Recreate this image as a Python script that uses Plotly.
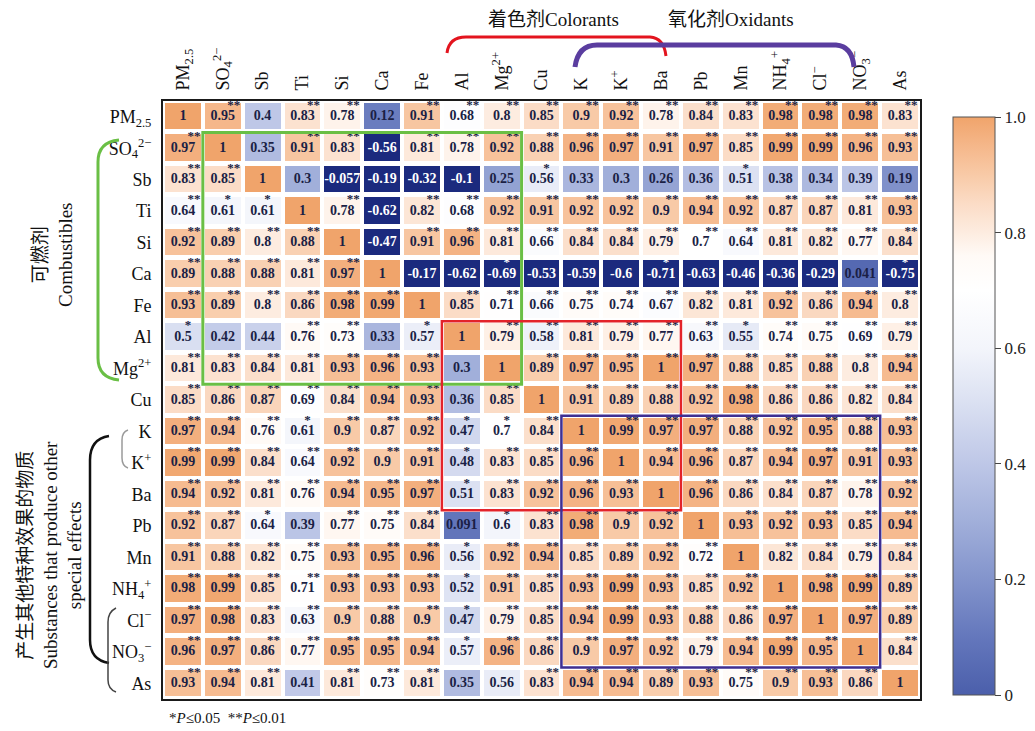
import plotly.graph_objects as go

# Species names (axis tick labels)
labels = [
    "PM<sub>2.5</sub>", "SO<sub>4</sub><sup>2−</sup>", "Sb", "Ti", "Si", "Ca", "Fe", "Al",
    "Mg<sup>2+</sup>", "Cu", "K", "K<sup>+</sup>", "Ba", "Pb", "Mn",
    "NH<sub>4</sub><sup>+</sup>", "Cl<sup>−</sup>", "NO<sub>3</sub><sup>−</sup>", "As",
]

# Correlation coefficients, one row per species
r_pm25 = [1, 0.95, 0.4, 0.83, 0.78, 0.12, 0.91, 0.68, 0.8, 0.85, 0.9, 0.92, 0.78, 0.84, 0.83, 0.98, 0.98, 0.98, 0.83]
r_so4 = [0.97, 1, 0.35, 0.91, 0.83, -0.56, 0.81, 0.78, 0.92, 0.88, 0.96, 0.97, 0.91, 0.97, 0.85, 0.99, 0.99, 0.96, 0.93]
r_sb = [0.83, 0.85, 1, 0.3, -0.057, -0.19, -0.32, -0.1, 0.25, 0.56, 0.33, 0.3, 0.26, 0.36, 0.51, 0.38, 0.34, 0.39, 0.19]
r_ti = [0.64, 0.61, 0.61, 1, 0.78, -0.62, 0.82, 0.68, 0.92, 0.91, 0.92, 0.92, 0.9, 0.94, 0.92, 0.87, 0.87, 0.81, 0.93]
r_si = [0.92, 0.89, 0.8, 0.88, 1, -0.47, 0.91, 0.96, 0.81, 0.66, 0.84, 0.84, 0.79, 0.7, 0.64, 0.81, 0.82, 0.77, 0.84]
r_ca = [0.89, 0.88, 0.88, 0.81, 0.97, 1, -0.17, -0.62, -0.69, -0.53, -0.59, -0.6, -0.71, -0.63, -0.46, -0.36, -0.29, 0.041, -0.75]
r_fe = [0.93, 0.89, 0.8, 0.86, 0.98, 0.99, 1, 0.85, 0.71, 0.66, 0.75, 0.74, 0.67, 0.82, 0.81, 0.92, 0.86, 0.94, 0.8]
r_al = [0.5, 0.42, 0.44, 0.76, 0.73, 0.33, 0.57, 1, 0.79, 0.58, 0.81, 0.79, 0.77, 0.63, 0.55, 0.74, 0.75, 0.69, 0.79]
r_mg = [0.81, 0.83, 0.84, 0.81, 0.93, 0.96, 0.93, 0.3, 1, 0.89, 0.97, 0.95, 1, 0.97, 0.88, 0.85, 0.88, 0.8, 0.94]
r_cu = [0.85, 0.86, 0.87, 0.69, 0.84, 0.94, 0.93, 0.36, 0.85, 1, 0.91, 0.89, 0.88, 0.92, 0.98, 0.86, 0.86, 0.82, 0.84]
r_k = [0.97, 0.94, 0.76, 0.61, 0.9, 0.87, 0.92, 0.47, 0.7, 0.84, 1, 0.99, 0.97, 0.97, 0.88, 0.92, 0.95, 0.88, 0.93]
r_kp = [0.99, 0.99, 0.84, 0.64, 0.92, 0.9, 0.91, 0.48, 0.83, 0.85, 0.96, 1, 0.94, 0.96, 0.87, 0.94, 0.97, 0.91, 0.93]
r_ba = [0.94, 0.92, 0.81, 0.76, 0.94, 0.95, 0.97, 0.51, 0.83, 0.92, 0.96, 0.93, 1, 0.96, 0.86, 0.84, 0.87, 0.78, 0.92]
r_pb = [0.92, 0.87, 0.64, 0.39, 0.77, 0.75, 0.84, 0.091, 0.6, 0.83, 0.98, 0.9, 0.92, 1, 0.93, 0.92, 0.93, 0.85, 0.94]
r_mn = [0.91, 0.88, 0.82, 0.75, 0.93, 0.95, 0.96, 0.56, 0.92, 0.94, 0.85, 0.89, 0.92, 0.72, 1, 0.82, 0.84, 0.79, 0.84]
r_nh4 = [0.98, 0.99, 0.85, 0.71, 0.93, 0.93, 0.93, 0.52, 0.91, 0.85, 0.93, 0.99, 0.93, 0.85, 0.92, 1, 0.98, 0.99, 0.89]
r_cl = [0.97, 0.98, 0.83, 0.63, 0.9, 0.88, 0.9, 0.47, 0.79, 0.85, 0.94, 0.99, 0.93, 0.88, 0.86, 0.97, 1, 0.97, 0.89]
r_no3 = [0.96, 0.97, 0.86, 0.77, 0.95, 0.95, 0.94, 0.57, 0.96, 0.86, 0.9, 0.97, 0.92, 0.79, 0.94, 0.99, 0.95, 1, 0.84]
r_as = [0.93, 0.94, 0.81, 0.41, 0.81, 0.73, 0.81, 0.35, 0.56, 0.83, 0.94, 0.94, 0.89, 0.93, 0.75, 0.9, 0.93, 0.86, 1]

# Significance level per cell: 0 none, 1 = P<=0.05, 2 = P<=0.01
s_pm25 = [0, 2, 0, 2, 2, 0, 2, 2, 2, 2, 2, 2, 2, 2, 2, 2, 2, 2, 2]
s_so4 = [2, 0, 0, 2, 2, 0, 2, 2, 2, 2, 2, 2, 2, 2, 2, 2, 2, 2, 2]
s_sb = [2, 2, 0, 0, 0, 0, 0, 0, 0, 1, 0, 0, 0, 0, 1, 0, 0, 0, 0]
s_ti = [2, 1, 1, 0, 2, 0, 2, 2, 2, 2, 2, 2, 2, 2, 2, 2, 2, 2, 2]
s_si = [2, 2, 2, 2, 0, 0, 2, 2, 2, 2, 2, 2, 2, 2, 2, 2, 2, 2, 2]
s_ca = [2, 2, 2, 2, 2, 0, 0, 0, 1, 0, 0, 0, 1, 0, 0, 0, 0, 0, 1]
s_fe = [2, 2, 2, 2, 2, 2, 0, 2, 2, 2, 2, 2, 2, 2, 2, 2, 2, 2, 2]
s_al = [1, 0, 0, 2, 2, 0, 1, 0, 2, 2, 2, 2, 2, 2, 1, 2, 2, 2, 2]
s_mg = [2, 2, 2, 2, 2, 2, 2, 0, 0, 2, 2, 2, 2, 2, 2, 2, 2, 2, 2]
s_cu = [2, 2, 2, 2, 2, 2, 2, 0, 2, 0, 2, 2, 2, 2, 2, 2, 2, 2, 2]
s_k = [2, 2, 2, 1, 2, 2, 2, 1, 1, 2, 0, 2, 2, 2, 2, 2, 2, 2, 2]
s_kp = [2, 2, 2, 2, 2, 2, 2, 1, 2, 2, 2, 0, 2, 2, 2, 2, 2, 2, 2]
s_ba = [2, 2, 2, 2, 2, 2, 2, 1, 2, 2, 2, 2, 0, 2, 2, 2, 2, 2, 2]
s_pb = [2, 2, 1, 0, 2, 2, 2, 0, 1, 2, 2, 2, 2, 0, 2, 2, 2, 2, 2]
s_mn = [2, 2, 2, 2, 2, 2, 2, 1, 2, 2, 2, 2, 2, 2, 0, 2, 2, 2, 2]
s_nh4 = [2, 2, 2, 2, 2, 2, 2, 1, 2, 2, 2, 2, 2, 2, 2, 0, 2, 2, 2]
s_cl = [2, 2, 2, 2, 2, 2, 2, 1, 2, 2, 2, 2, 2, 2, 2, 2, 0, 2, 2]
s_no3 = [2, 2, 2, 2, 2, 2, 2, 1, 2, 2, 2, 2, 2, 2, 2, 2, 2, 0, 2]
s_as = [2, 2, 2, 0, 2, 2, 2, 0, 0, 2, 2, 2, 2, 2, 2, 2, 2, 2, 0]

corr = [r_pm25, r_so4, r_sb, r_ti, r_si, r_ca, r_fe, r_al, r_mg, r_cu,
        r_k, r_kp, r_ba, r_pb, r_mn, r_nh4, r_cl, r_no3, r_as]
sig = [s_pm25, s_so4, s_sb, s_ti, s_si, s_ca, s_fe, s_al, s_mg, s_cu,
       s_k, s_kp, s_ba, s_pb, s_mn, s_nh4, s_cl, s_no3, s_as]

cbar_vals = [0, 0.2, 0.4, 0.6, 0.8, 1.0]

n = len(labels)
idx = list(range(n))

SERIF = "Liberation Serif, Times New Roman, Noto Sans CJK SC, serif"
TXT = "#1b1f45"

# Figure geometry (pixels)
W, H = 1035, 731
L, R, T, B = 163, 920, 101, 699
PW, PH = R - L, B - T
cw, ch = PW / n, PH / n


def px(x):
    return (x - L) / PW


def py(y):
    return 1 - (y - T) / PH


colorscale = [
    [0.0, "#4b5fab"], [0.1, "#6477bc"], [0.2, "#8394cc"], [0.3, "#a1afda"],
    [0.4, "#bec7e7"], [0.5, "#d9dff1"], [0.6, "#f3f5fb"], [0.7, "#ffffff"],
    [0.76, "#fffaf6"], [0.8, "#fdece0"], [0.85, "#fbdcc6"], [0.9, "#f8caa7"],
    [0.95, "#f5b78a"], [1.0, "#f0a46b"],
]

z_pos = [[v if v >= 0 else None for v in row] for row in corr]
z_neg = [[1 if v < 0 else None for v in row] for row in corr]

fig = go.Figure()
fig.add_trace(go.Heatmap(
    z=z_pos, x=idx, y=idx, zmin=0, zmax=1, colorscale=colorscale,
    xgap=4, ygap=5, hoverinfo="skip",
    colorbar=dict(
        x=1 + (953 - R) / PW, xanchor="left", xpad=0, ypad=0,
        y=py(117), yanchor="top", len=(695 - 117) / PH, lenmode="fraction",
        thickness=42, thicknessmode="pixels",
        outlinewidth=1, outlinecolor="#555",
        tickmode="array", tickvals=cbar_vals,
        tickformat=".1f", labelalias={"0.0": "0"},
        ticks="outside", ticklen=6, tickcolor="#444",
        tickfont=dict(family=SERIF, size=17, color="#222"),
    ),
))
fig.add_trace(go.Heatmap(
    z=z_neg, x=idx, y=idx, zmin=0, zmax=1,
    colorscale=[[0, "#1b2a7e"], [1, "#1b2a7e"]],
    xgap=4, ygap=5, showscale=False, hoverinfo="skip",
))

# Cell values
vx, vy, vt, vc = [], [], [], []
for i in range(n):
    for j in range(n):
        v = corr[i][j]
        vx.append(j)
        vy.append(i)
        vt.append(f"{v:g}")
        vc.append("#ffffff" if v < 0 else TXT)
fig.add_trace(go.Scatter(
    x=vx, y=vy, text=vt, mode="text", hoverinfo="skip", showlegend=False,
    textfont=dict(family=SERIF, size=14, color=vc, weight="bold"),
))

# Significance marks, raised to the upper right of each value
sx, sy, st, scol = [], [], [], []
for i in range(n):
    for j in range(n):
        k = sig[i][j]
        if k == 0:
            continue
        off = 11 if k == 2 else 5
        sx.append(j + off / cw)
        sy.append(i - 11 / ch)
        st.append("*" * k)
        scol.append("#ffffff" if corr[i][j] < 0 else TXT)
fig.add_trace(go.Scatter(
    x=sx, y=sy, text=st, mode="text", hoverinfo="skip", showlegend=False,
    textfont=dict(family=SERIF, size=13, color=scol, weight="bold"),
))

# Group boxes inside the matrix
boxes = [
    (1, 8, "#6abf45", 3),      # combustibles
    (7, 12, "#e3232a", 2.5),   # colorants
    (10, 17, "#3f2f92", 2.5),  # oxidants
]
for a, b, col, w in boxes:
    fig.add_shape(type="rect", xref="x", yref="y",
                  x0=a - 0.5, x1=b + 0.5, y0=a - 0.5, y1=b + 0.5,
                  line=dict(color=col, width=w), fillcolor="rgba(0,0,0,0)")


def path(pts):
    # pts: list of SVG commands given in pixel coordinates
    out = []
    for cmd in pts:
        c = cmd[0]
        coords = cmd[1:]
        conv = []
        for k in range(0, len(coords), 2):
            conv.append(f"{px(coords[k]):.5f},{py(coords[k + 1]):.5f}")
        out.append(c + " " + " ".join(conv))
    return " ".join(out)


brackets = [
    # top: colorants
    ([("M", 447, 53), ("Q", 449, 37, 466, 37), ("L", 650, 37), ("Q", 664, 38, 666, 56)], "#e3141e", 3),
    # top: oxidants
    ([("M", 575, 67), ("Q", 578, 45, 597, 45), ("L", 836, 45), ("Q", 852, 46, 854, 67)], "#5a3d9f", 5),
    # left: combustibles
    ([("M", 119, 140), ("Q", 98, 142, 98, 162), ("L", 98, 358), ("Q", 98, 378, 119, 380)], "#6abf45", 3),
    # left: special effects
    ([("M", 109, 436), ("Q", 90, 439, 90, 460), ("L", 90, 640), ("Q", 90, 660, 109, 663)], "#111111", 2.5),
    ([("M", 128, 430), ("Q", 122, 432, 122, 440), ("L", 122, 458), ("Q", 122, 466, 128, 468)], "#9a9a9a", 1.5),
    ([("M", 116, 608), ("Q", 108, 612, 108, 622), ("L", 108, 680), ("Q", 108, 689, 116, 692)], "#444444", 1.5),
]
for pts, col, w in brackets:
    fig.add_shape(type="path", xref="paper", yref="paper", path=path(pts),
                  line=dict(color=col, width=w), layer="above")

annots = [
    dict(x=px(553), y=py(19), text="着色剂Colorants", textangle=0, size=19),
    dict(x=px(731), y=py(19), text="氧化剂Oxidants", textangle=0, size=19),
    dict(x=px(53), y=py(255), text="可燃剂<br>Combustibles", textangle=-90, size=19),
    dict(x=px(50), y=py(555),
         text="产生其他特种效果的物质<br>Substances that produce other<br>special effects",
         textangle=-90, size=19),
]
for a in annots:
    fig.add_annotation(x=a["x"], y=a["y"], xref="paper", yref="paper",
                       text=a["text"], textangle=a["textangle"], showarrow=False,
                       xanchor="center", yanchor="middle",
                       font=dict(family=SERIF, size=a["size"], color="#111"))

fig.add_annotation(x=px(167), y=py(718), xref="paper", yref="paper",
                   text="*<i>P</i>≤0.05  **<i>P</i>≤0.01", showarrow=False,
                   xanchor="left", yanchor="middle",
                   font=dict(family=SERIF, size=15, color="#111"))

fig.update_xaxes(
    range=[-0.5, n - 0.5], tickvals=idx, ticktext=labels, side="top",
    tickangle=-90, ticks="", ticklabelstandoff=5,
    tickfont=dict(family=SERIF, size=18, color="#111"),
    showline=True, mirror=True, linewidth=2, linecolor="#1a1a1a",
    showgrid=False, zeroline=False, fixedrange=True,
)
fig.update_yaxes(
    range=[n - 0.5, -0.5], tickvals=idx, ticktext=labels,
    ticks="", ticklabelstandoff=6,
    tickfont=dict(family=SERIF, size=18, color="#111"),
    showline=True, mirror=True, linewidth=2, linecolor="#1a1a1a",
    showgrid=False, zeroline=False, fixedrange=True,
)

fig.update_layout(
    width=W, height=H,
    margin=dict(l=L, r=W - R, t=T, b=H - B, autoexpand=False),
    paper_bgcolor="white", plot_bgcolor="white",
    showlegend=False,
)

fig.write_html("out.html")
